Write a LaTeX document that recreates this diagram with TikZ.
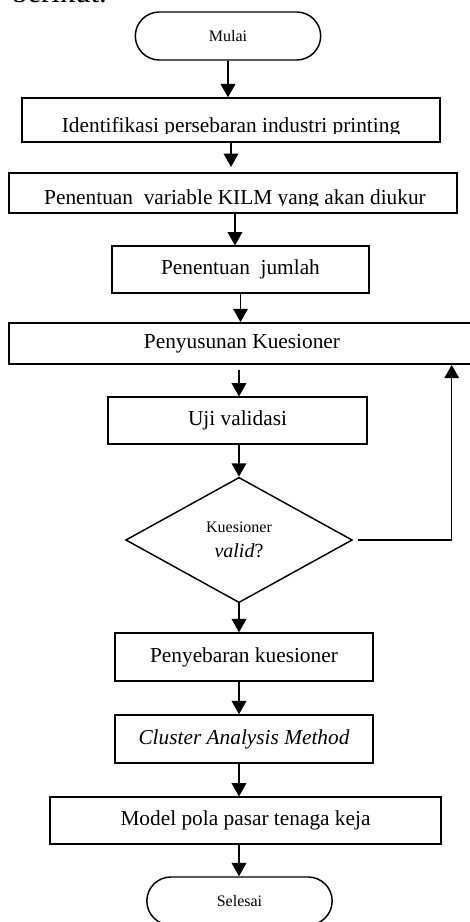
\documentclass[tikz,border=0pt]{standalone}
\usepackage{fontspec}
\setmainfont{Liberation Serif}
\usetikzlibrary{arrows.meta, shapes.geometric}

\begin{document}
\begin{tikzpicture}[x=0.75pt, y=-0.75pt,
    terminal/.style = {
        draw,
        line width=1.1pt,
        rectangle,
        rounded corners=18pt,
        minimum width=139pt,
        minimum height=36pt,
        font=\fontsize{12}{14}\selectfont
    },
    process/.style = {
        draw,
        line width=1.1pt,
        rectangle,
        minimum height=#1,
        inner sep=0pt,
        font=\fontsize{16}{18}\selectfont
    },
    process/.default=35pt,
    decision/.style = {
        draw,
        line width=1.1pt,
        diamond,
        minimum width=170pt,
        minimum height=94pt,
        inner sep=0pt,
        align=center,
        font=\fontsize{15}{19}\selectfont
    },
    flow/.style = {line width=1.1pt, -{Triangle[width=11pt,length=10pt]}},
    boxtext/.style = {inner sep=0pt, anchor=base, font=\fontsize{16}{18}\selectfont}
]
    % frame of the picture
    \useasboundingbox (0,0) rectangle (470,922);
    \clip (0,0) rectangle (470,922);

    % clipped line of the page above
    \node[anchor=base west, inner sep=0pt, font=\fontsize{23}{25}\selectfont] (kalimat) at (12,2) {berikut.};

    % Draw all steps
    \node[terminal] (mulai) at (228,36) {Mulai};
    \node[process=33pt, minimum width=313.5pt] (identifikasi) at (231,120) {};
    \node[process=30pt, minimum width=336pt] (variabel) at (233,193) {};
    \node[process, minimum width=193pt] (jumlah) at (240.5,269.5) {Penentuan\ \ jumlah};
    \node[process=31pt, minimum width=349.5pt] (penyusunan) at (242,343.5) {Penyusunan Kuesioner};
    \node[process, minimum width=194pt] (uji) at (237.5,420.5) {Uji validasi};
    \node[decision] (cek) at (239,540) {{\fontsize{12}{14}\selectfont Kuesioner}\\\textit{valid}?};
    \node[process=36pt, minimum width=193.5pt] (penyebaran) at (244,657) {Penyebaran kuesioner};
    \node[process=36pt, minimum width=193.5pt] (cluster) at (244,739) {\textit{Cluster Analysis Method}};
    \node[process, minimum width=293pt] (model) at (245.5,820.5) {Model pola pasar tenaga keja};
    \node[terminal] (selesai) at (239.5,901) {Selesai};

    % texts cut off at the bottom of their boxes
    \begin{scope}
        \clip (identifikasi.north west) rectangle (identifikasi.east |- 0,133);
        \node[boxtext] (identifikasiteks) at (231,132) {Identifikasi persebaran industri printing};
    \end{scope}
    \begin{scope}
        \clip (variabel.north west) rectangle (variabel.east |- 0,205);
        \node[boxtext] (variabelteks) at (235,204) {Penentuan\ \ variable KILM yang akan diukur};
    \end{scope}

    % connectors
    \draw[flow] (mulai.south) -- (mulai.south |- identifikasi.north);
    \draw[flow] (identifikasi.south) -- ([yshift=4pt]identifikasi.south |- variabel.north);
    \draw[flow] ([xshift=1.5]variabel.south) -- ([xshift=1.5]variabel.south |- jumlah.north);
    \draw[flow] (jumlah.south) -- (jumlah.south |- penyusunan.north);
    \draw[flow] ([yshift=-4pt]cek.north |- penyusunan.south) -- (cek.north |- uji.north);
    \draw[flow] (cek.north |- uji.south) -- (cek.north);
    \draw[flow] (cek.south) -- (cek.south |- penyebaran.north);
    \draw[flow] (cek.south |- penyebaran.south) -- (cek.south |- cluster.north);
    \draw[flow] (cek.south |- cluster.south) -- (cek.south |- model.north);
    \draw[flow] (cek.south |- model.south) -- (cek.south |- selesai.north);
    \draw[flow] ([xshift=4]cek.east) -| ([xshift=-18]penyusunan.south east);

\end{tikzpicture}
\end{document}
